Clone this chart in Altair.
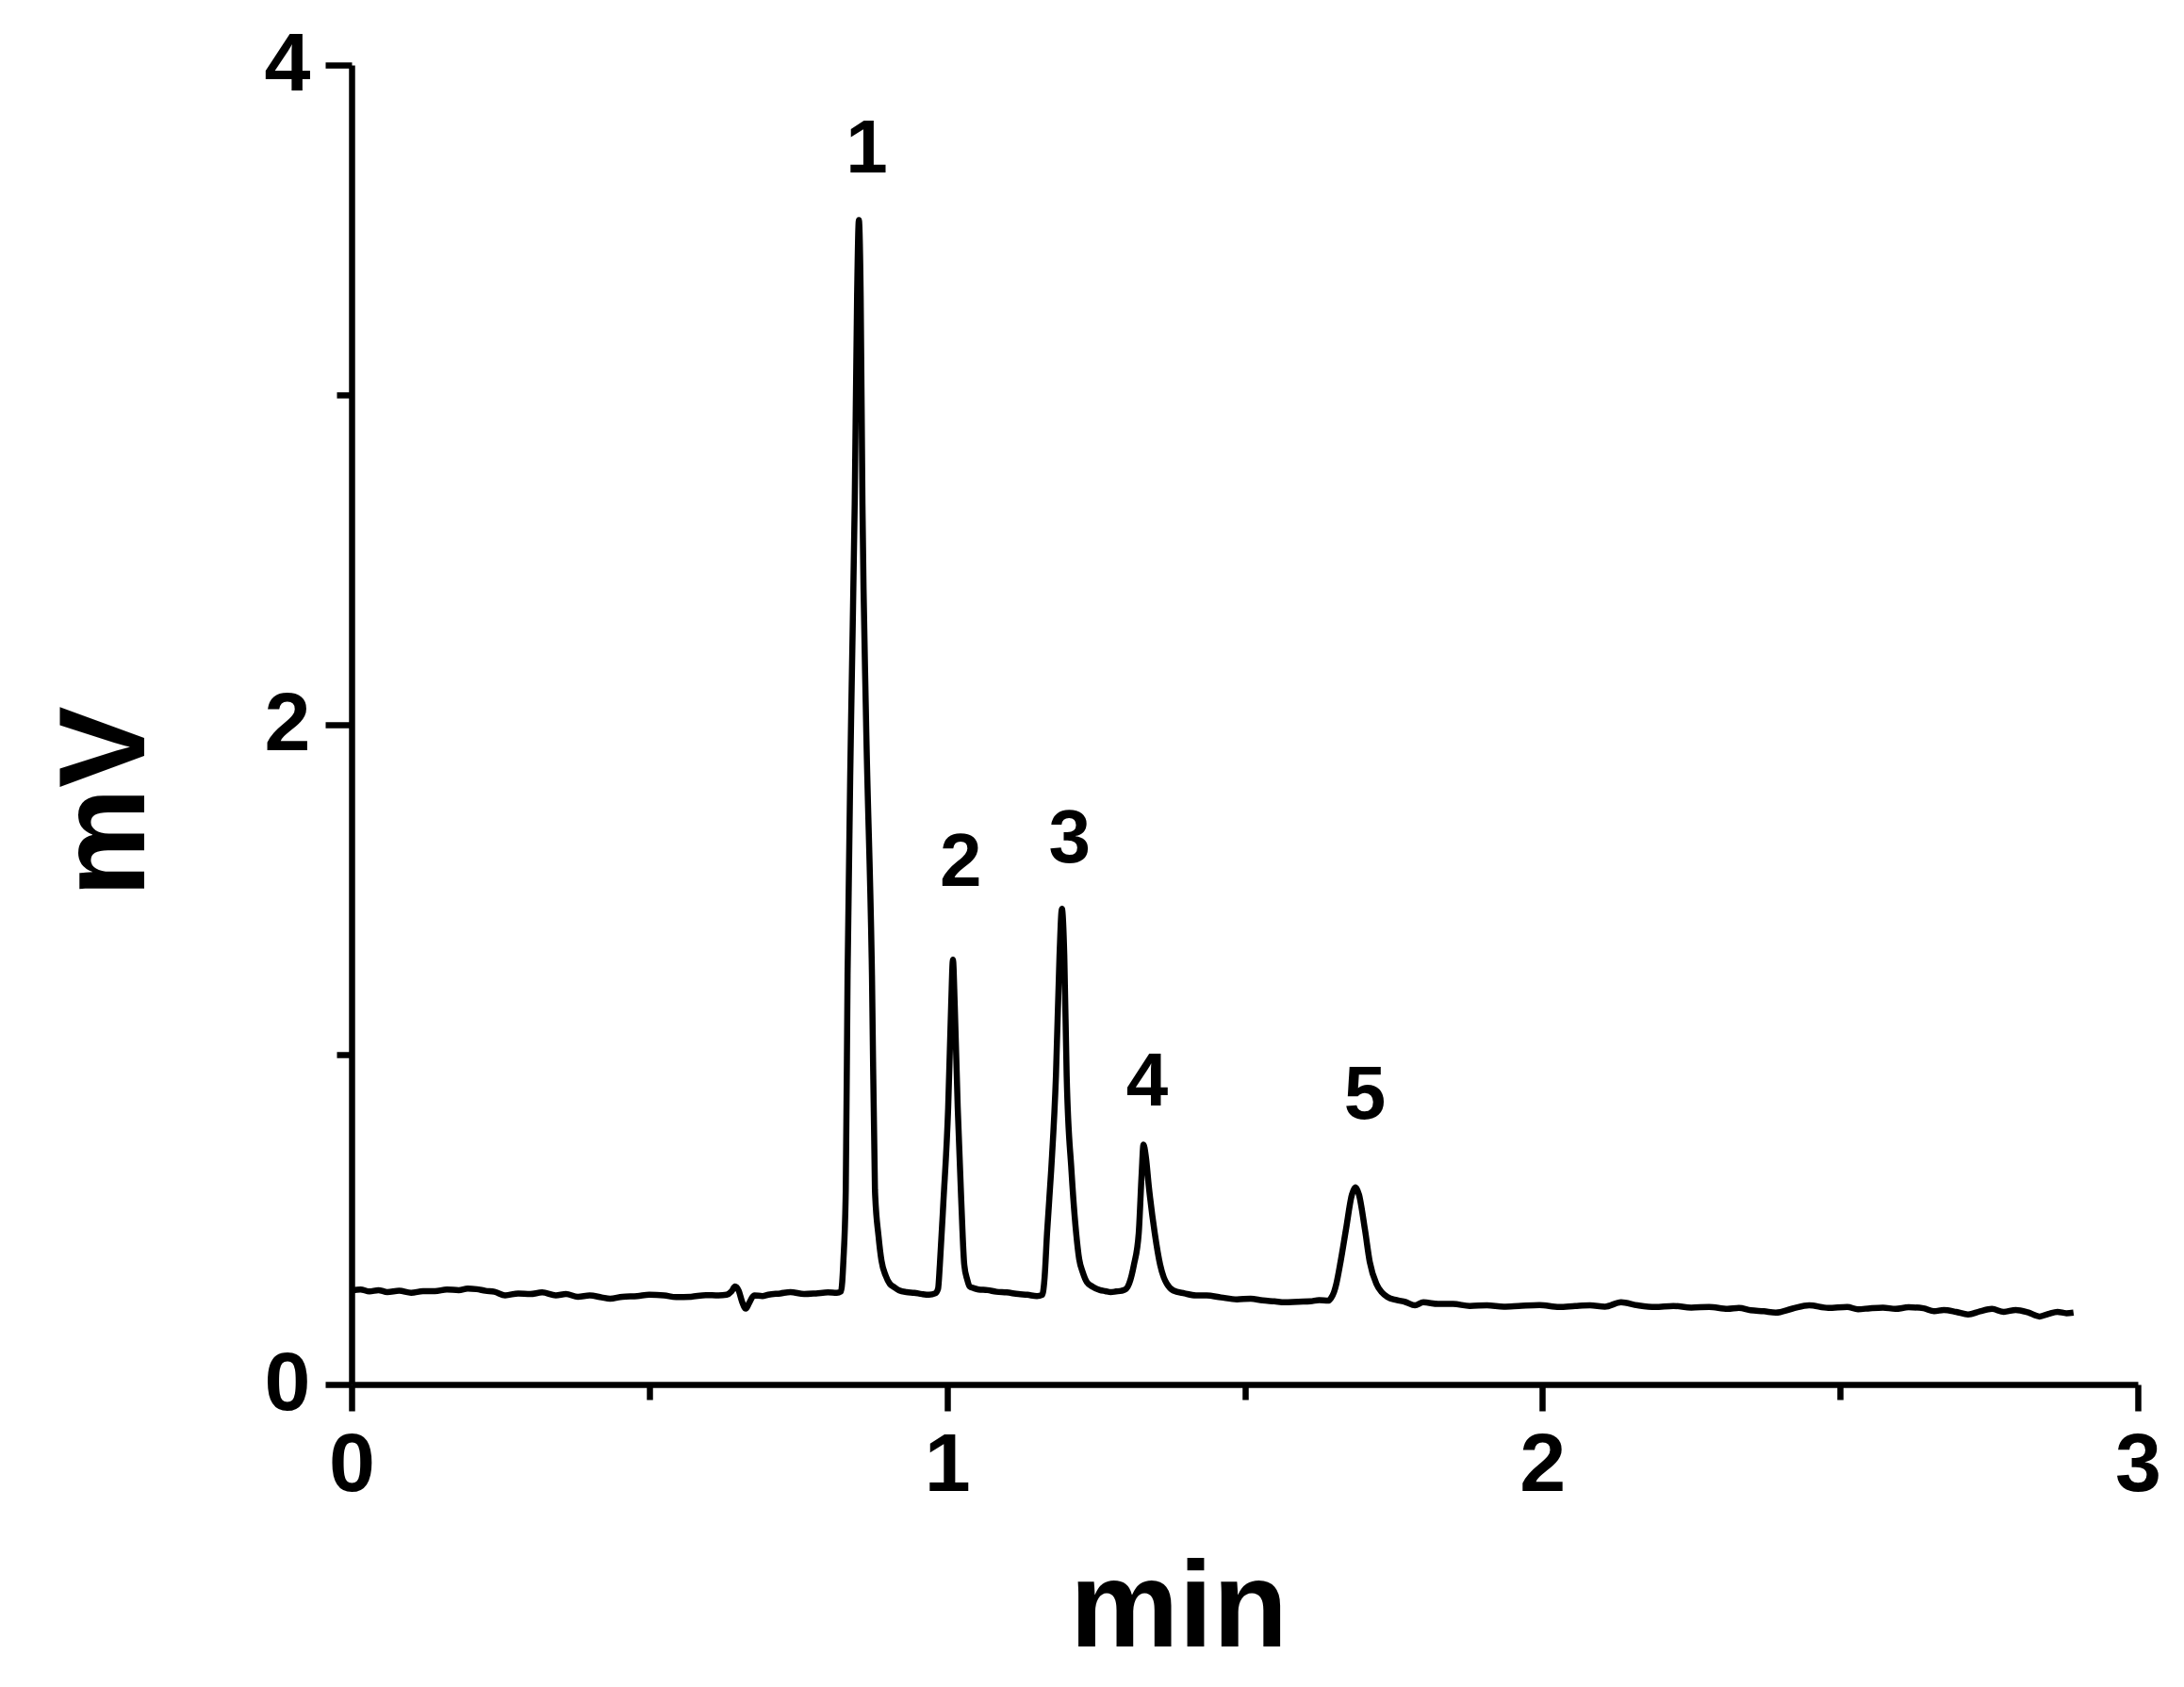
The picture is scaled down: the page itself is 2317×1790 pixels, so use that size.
import altair as alt
import pandas as pd

# Chromatogram trace (time in min, signal in mV)
trace_time = [
    0.000, 0.015, 0.030, 0.045, 0.060, 0.080, 0.100, 0.120, 0.140, 0.160,
    0.180, 0.195, 0.210, 0.225, 0.240, 0.258, 0.280, 0.300, 0.320, 0.343,
    0.360, 0.380, 0.400, 0.420, 0.434, 0.455, 0.480, 0.500, 0.525, 0.545,
    0.570, 0.595, 0.616, 0.630, 0.638, 0.644, 0.650, 0.656, 0.662, 0.668,
    0.676, 0.690, 0.700, 0.720, 0.737, 0.760, 0.780, 0.800, 0.815, 0.822,
    0.826, 0.830, 0.833, 0.839, 0.845, 0.849, 0.852, 0.855, 0.858, 0.864,
    0.874, 0.879, 0.885, 0.890, 0.897, 0.904, 0.912, 0.920, 0.932, 0.945,
    0.958, 0.970, 0.980,
    0.985, 0.988, 0.994, 1.002, 1.007, 1.010, 1.013, 1.018, 1.024, 1.029,
    1.034, 1.038, 1.045, 1.053, 1.068, 1.083, 1.100, 1.120, 1.135, 1.151,
    1.160,
    1.164, 1.168, 1.175, 1.183, 1.189, 1.193, 1.197, 1.201, 1.209, 1.217,
    1.222, 1.228, 1.235, 1.245, 1.257, 1.266, 1.275, 1.284, 1.293, 1.301,
    1.306, 1.314, 1.322, 1.327, 1.330, 1.334, 1.339, 1.349, 1.358, 1.364,
    1.369, 1.380, 1.399, 1.418, 1.436, 1.460, 1.487, 1.510, 1.530, 1.550,
    1.567, 1.590, 1.610, 1.625, 1.640, 1.645,
    1.650, 1.654, 1.661, 1.670, 1.680, 1.686, 1.692, 1.702, 1.710, 1.721,
    1.730, 1.740, 1.755, 1.770, 1.786, 1.800, 1.825, 1.850, 1.878, 1.907,
    1.935, 1.960, 1.995, 2.028, 2.055, 2.080, 2.105, 2.132, 2.160, 2.189,
    2.220, 2.250, 2.280, 2.311, 2.330, 2.350, 2.372, 2.392, 2.420, 2.448,
    2.480, 2.512, 2.530, 2.550, 2.572, 2.593, 2.615, 2.640, 2.658, 2.674,
    2.695, 2.715, 2.735, 2.755, 2.775, 2.795, 2.815, 2.835, 2.850, 2.865,
    2.880, 2.892,
]
trace_mv = [
    0.285, 0.288, 0.282, 0.286, 0.280, 0.284, 0.278, 0.283, 0.283, 0.288,
    0.286, 0.291, 0.289, 0.284, 0.281, 0.270, 0.276, 0.274, 0.279, 0.270,
    0.274, 0.266, 0.270, 0.264, 0.260, 0.266, 0.268, 0.272, 0.270, 0.265,
    0.266, 0.271, 0.270, 0.272, 0.282, 0.297, 0.285, 0.250, 0.230, 0.248,
    0.270, 0.268, 0.272, 0.276, 0.280, 0.274, 0.276, 0.279, 0.278, 0.282,
    0.375, 0.590, 1.240, 2.020, 2.670, 3.300, 3.530, 3.300, 2.670, 2.020,
    1.240, 0.590, 0.450, 0.375, 0.330, 0.305, 0.294, 0.285, 0.280, 0.278,
    0.274, 0.272, 0.276,
    0.290, 0.363, 0.555, 0.840, 1.150, 1.288, 1.150, 0.840, 0.555, 0.363,
    0.318, 0.297, 0.292, 0.288, 0.286, 0.281, 0.279, 0.274, 0.272, 0.268,
    0.272,
    0.326, 0.458, 0.650, 0.936, 1.300, 1.442, 1.300, 0.936, 0.650, 0.458,
    0.380, 0.340, 0.310, 0.296, 0.286, 0.283, 0.280, 0.282, 0.284, 0.290,
    0.306, 0.363, 0.458, 0.640, 0.727, 0.690, 0.600, 0.458, 0.363, 0.325,
    0.306, 0.285, 0.276, 0.270, 0.270, 0.264, 0.258, 0.260, 0.255, 0.252,
    0.249, 0.251, 0.252, 0.256, 0.254, 0.262,
    0.280, 0.306, 0.372, 0.469, 0.575, 0.598, 0.575, 0.469, 0.372, 0.306,
    0.280, 0.265, 0.256, 0.250, 0.240, 0.249, 0.244, 0.244, 0.238, 0.240,
    0.236, 0.238, 0.241, 0.235, 0.238, 0.240, 0.236, 0.249, 0.240, 0.235,
    0.238, 0.233, 0.235, 0.229, 0.232, 0.225, 0.222, 0.218, 0.230, 0.240,
    0.232, 0.235, 0.228, 0.231, 0.233, 0.229, 0.234, 0.231, 0.222, 0.226,
    0.220, 0.212, 0.222, 0.229, 0.220, 0.226, 0.219, 0.206, 0.214, 0.220,
    0.216, 0.218,
]

# Peak annotations
peak_names = ["1", "2", "3", "4", "5"]
peak_label_time = [0.865, 1.023, 1.206, 1.336, 1.702]
peak_label_mv = [3.674, 1.511, 1.583, 0.846, 0.806]

x_ticks = [0, 0.5, 1, 1.5, 2, 2.5, 3]
y_ticks = [0, 1, 2, 3, 4]

trace = pd.DataFrame({"t": trace_time, "mv": trace_mv})
labels = pd.DataFrame({"t": peak_label_time, "mv": peak_label_mv, "name": peak_names})

FONT = "Liberation Sans"

x_enc = alt.X(
    "t:Q",
    scale=alt.Scale(domain=[0, 3], nice=False, zero=False),
    axis=alt.Axis(
        title="min",
        values=x_ticks,
        labelExpr="datum.value % 1 === 0 ? format(datum.value, 'd') : ''",
        labelFlush=False,
        labelOverlap=False,
        grid=False,
        domainColor="black",
        domainWidth=6.5,
        tickColor="black",
        tickWidth=6.5,
        tickSize={"condition": {"test": "datum.value % 1 !== 0", "value": 16}, "value": 28},
        labelFont=FONT,
        labelFontSize=88,
        labelFontWeight="bold",
        labelColor="black",
        labelPadding=14,
        titleFont=FONT,
        titleFontSize=130,
        titleFontWeight="bold",
        titleColor="black",
        titleX=877,
        titleY=277,
        titleAlign="center",
        titleBaseline="alphabetic",
    ),
)

y_enc = alt.Y(
    "mv:Q",
    scale=alt.Scale(domain=[0, 4], nice=False, zero=False),
    axis=alt.Axis(
        title="mV",
        values=y_ticks,
        labelExpr="datum.value % 2 === 0 ? format(datum.value, 'd') : ''",
        labelFlush=False,
        labelOverlap=False,
        grid=False,
        domainColor="black",
        domainWidth=6.5,
        tickColor="black",
        tickWidth=6.5,
        tickSize={"condition": {"test": "datum.value % 2 !== 0", "value": 16}, "value": 28},
        labelFont=FONT,
        labelFontSize=88,
        labelFontWeight="bold",
        labelColor="black",
        labelPadding=16,
        titleFont=FONT,
        titleFontSize=130,
        titleFontWeight="bold",
        titleColor="black",
        titleAngle=270,
        titleX=-221,
        titleY=781,
        titleAlign="center",
        titleBaseline="alphabetic",
    ),
)

line = alt.Chart(trace).mark_line(color="black", strokeWidth=6.5, interpolate="monotone").encode(
    x=x_enc, y=y_enc, order="t:Q"
)

text = alt.Chart(labels).mark_text(
    font=FONT, fontSize=80, fontWeight="bold", color="black", align="center", baseline="alphabetic"
).encode(
    x=alt.X("t:Q"),
    y=alt.Y("mv:Q"),
    text="name:N",
)

chart = (
    alt.layer(line, text)
    .properties(
        width=1895,
        height=1400,
        autosize=alt.AutoSizeParams(type="none"),
        padding={"left": 365, "top": 61, "right": 40, "bottom": 318},
        background="white",
    )
    .configure_view(strokeWidth=0)
)

chart.save("out.html", embed_options={"renderer": "svg", "actions": False})
